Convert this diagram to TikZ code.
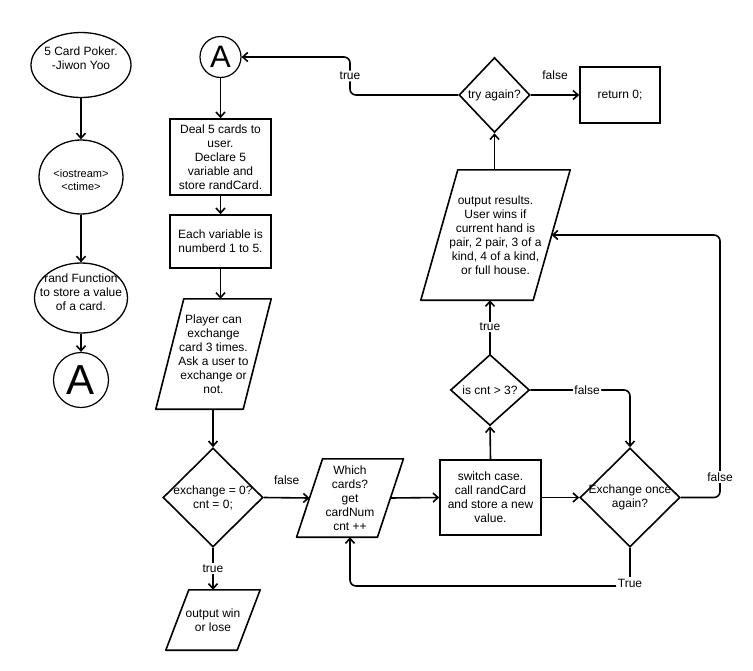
\documentclass[tikz,border=0pt]{standalone}
\usepackage{fontspec}
\setmainfont{Liberation Sans}
\usetikzlibrary{shapes.geometric,arrows.meta}
% slanted outline of an input/output node: #1 node name, #2 half of the slant
\newcommand\ioframe[2]{%
  \draw[line] ([xshift=-#2]#1.south west) -- ([xshift=#2]#1.north west)
    -- ([xshift=#2]#1.north east) -- ([xshift=-#2]#1.south east) -- cycle;}
\begin{document}
\begin{tikzpicture}[x=1pt,y=-1pt,
  every node/.style={font=\fontsize{12}{14}\selectfont},
  line/.style={line width=1.6pt, line join=round},
  arr/.style={line, -{Straight Barb[length=5pt,width=9pt]}},
  terminal/.style={ellipse, draw=black, line width=1.3pt, inner sep=0pt},
  connector/.style={circle, draw, line width=1.2pt, inner sep=0pt},
  procbox/.style={rectangle, draw, line width=1.6pt, inner sep=0pt, align=center},
  decision/.style={diamond, draw, line width=1.6pt, inner sep=0pt},
  iobox/.style={rectangle, inner sep=0pt, align=center},
  inside/.style={align=center, inner sep=0pt},
  lab/.style={fill=white, inner sep=1.5pt},
]
\useasboundingbox (0,0) rectangle (753,670);

% left column: program header
\node[terminal, minimum width=100pt, minimum height=65pt] (title) at (81,65) {};
\node[inside] (titletext) at (81,58) {5 Card Poker.\\-Jiwon Yoo};
\node[terminal, minimum width=84pt, minimum height=74pt] (incl) at (81,177) {};
\node[inside, font=\fontsize{11}{13}\selectfont] (incltext) at (81,180) {<iostream>\\<ctime>};
\node[terminal, minimum width=93pt, minimum height=70pt] (rnd) at (81,298) {};
\node[inside] (rndtext) at (81,292) {rand Function\\to store a value\\of a card.};
\node[connector, minimum size=55pt, font=\fontsize{42}{42}\selectfont] (aout) at (81,380) {A};

% main flow
\node[connector, minimum size=41pt, font=\fontsize{31}{31}\selectfont] (ain) at (220.5,57) {A};
\node[procbox, minimum width=101pt, minimum height=76pt] (deal) at (220.5,157)
  {Deal 5 cards to\\user.\\Declare 5\\variable and\\store randCard.};
\node[procbox, minimum width=101pt, minimum height=53pt] (each) at (220.5,241.5)
  {Each variable is\\numberd 1 to 5.};
\node[iobox, minimum width=87pt, minimum height=110pt] (player) at (213.5,354)
  {Player can\\exchange\\card 3 times.\\Ask a user to\\exchange or\\not.};
\ioframe{player}{14pt}
\node[decision, minimum width=100pt, minimum height=99pt,
  label={[inside]center:exchange = 0?\\cnt = 0;}] (exz) at (213,497.5) {};
\node[iobox, minimum width=71pt, minimum height=60pt] (outwin) at (213,620)
  {output win\\or lose};
\ioframe{outwin}{11.5pt}
\node[iobox, minimum width=80.5pt, minimum height=78pt] (which) at (350,498)
  {Which\\cards?\\get\\cardNum\\cnt ++};
\ioframe{which}{13pt}
\node[procbox, minimum width=101pt, minimum height=75pt] (switch) at (490.5,497.5)
  {switch case.\\call randCard\\and store a new\\value.};
\node[decision, minimum width=100pt, minimum height=99pt,
  label={[inside]center:Exchange once\\again?}] (again) at (630,497.5) {};
\node[decision, minimum width=79pt, minimum height=71pt,
  label={[inside]center:is cnt > 3?}] (iscnt) at (490,390) {};
\node[iobox, minimum width=112pt, minimum height=130pt] (outres) at (495.5,235)
  {output results.\\User wins if\\current hand is\\pair, 2 pair, 3 of a\\kind, 4 of a kind,\\or full house.};
\ioframe{outres}{18.5pt}
\node[decision, minimum width=71pt, minimum height=75pt,
  label={[inside]center:try again?}] (try) at (494.5,95) {};
\node[procbox, minimum width=80pt, minimum height=56pt] (ret) at (620,95) {return 0;};

% bend points of the loops
\coordinate (tryturn) at (350,95);
\coordinate (falseturn) at (720,497.5);
\coordinate (trueturn) at (630,586);
\coordinate (backturn) at (350,586);

% connectors
\draw[arr] (title.south) -- (incl.north);
\draw[arr] (incl.south) -- (rnd.north);
\draw[arr] (rnd.south) -- (aout.north);

\draw[arr] (ain.south) -- (deal.north);
\draw[arr] (deal.south) -- (each.north);
\draw[arr] (each.south) -- (each.south |- player.north);
\draw[arr] (exz.north |- player.south) -- (exz.north);
\draw[arr] (exz.south) -- node[lab] (ltrue1) {true} (exz.south |- outwin.north);
\draw[arr] (exz.east) -- node[above=9pt] (lfalse1) {false} (which.west);
\draw[arr] (which.east) -- (switch.west);
\draw[arr] (switch.east) -- (again.west);
\draw[arr] (switch.north) -- (iscnt.south);
\draw[arr] (iscnt.north) -- node[lab] (ltrue2) {true} (iscnt.north |- outres.south);
\draw[arr, rounded corners=6pt] (iscnt.east) -- node[lab, pos=0.57] (lfalse2) {false}
  (again.north |- iscnt.east) -- (again.north);
\draw[arr, rounded corners=6pt] (again.east) -- (falseturn) -- (falseturn |- outres.east) -- (outres.east);
\node[lab] (lfalse3) at (720,477) {false};
\draw[arr, rounded corners=6pt] (again.south) -- (trueturn) -- (backturn) -- (backturn |- which.south);
\node[lab] (ltrue3) at (630,583) {True};
\draw[arr] (try.south |- outres.north) -- (try.south);
\draw[arr] (try.east) -- node[above=11pt] (lfalse4) {false} (ret.west);
\draw[arr, rounded corners=6pt] (try.west) -- (tryturn) -- node[lab] (ltrue4) {true}
  (tryturn |- ain.east) -- (ain.east);
\end{tikzpicture}
\end{document}
